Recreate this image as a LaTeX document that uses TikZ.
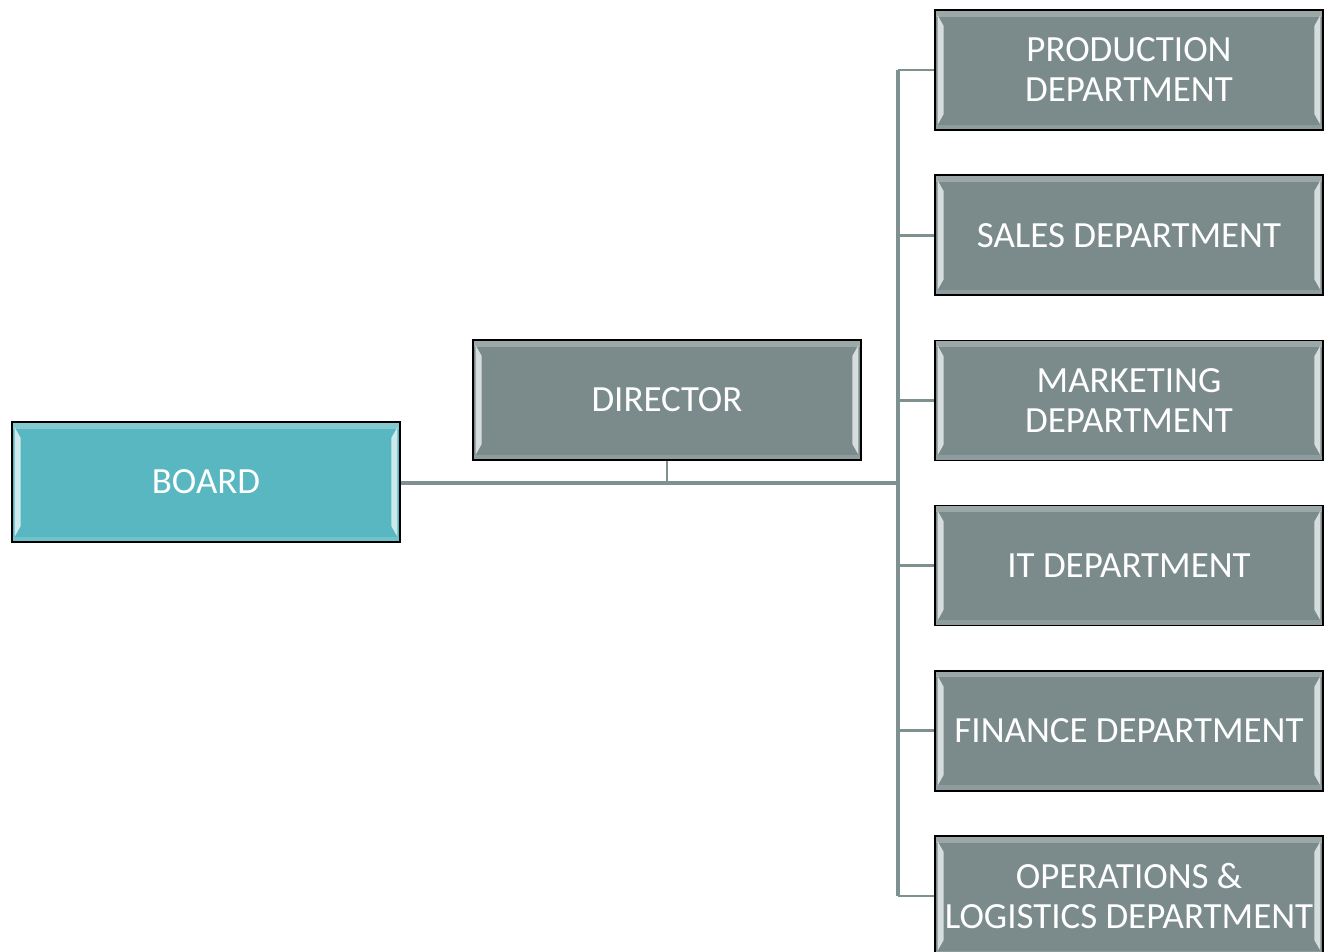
\documentclass[tikz,border=0pt]{standalone}
\usepackage{fontspec}
\setmainfont{Carlito}
\definecolor{slate}{HTML}{7B8B8C}
\definecolor{teal}{HTML}{59B7C1}
\definecolor{wire}{HTML}{7F9090}
\begin{document}
\begin{tikzpicture}[x=0.75pt,y=-0.75pt,
    box/.style={draw=black, line width=1.3pt, fill=slate, text=white,
      minimum width=291pt, minimum height=90pt, inner sep=0pt, align=center,
      font=\fontsize{27.7}{30}\selectfont,
      path picture={
        % bevel: light strips on the sides, soft bands top and bottom
        \fill[white, opacity=0.25] (path picture bounding box.north west) rectangle
          ([yshift=-5pt]path picture bounding box.north east);
        \fill[white, opacity=0.15] (path picture bounding box.south west) rectangle
          ([yshift=4pt]path picture bounding box.south east);
        \fill[white, opacity=0.7]
          ([xshift=2pt,yshift=4pt]path picture bounding box.south west) --
          ([xshift=6.5pt,yshift=12pt]path picture bounding box.south west) --
          ([xshift=6.5pt,yshift=-12pt]path picture bounding box.north west) --
          ([xshift=2pt,yshift=-4pt]path picture bounding box.north west) -- cycle;
        \fill[white, opacity=0.7]
          ([xshift=-2pt,yshift=4pt]path picture bounding box.south east) --
          ([xshift=-6.5pt,yshift=12pt]path picture bounding box.south east) --
          ([xshift=-6.5pt,yshift=-12pt]path picture bounding box.north east) --
          ([xshift=-2pt,yshift=-4pt]path picture bounding box.north east) -- cycle;
      }},
    link/.style={draw=wire, line width=2pt},
    trunk/.style={draw=wire, line width=3.4pt}]
  \useasboundingbox (0,0) rectangle (1331,952);

  % top of the tree
  \node[box, fill=teal] (board) at (206,482) {BOARD};
  \node[box] (director) at (667,400) {DIRECTOR};

  % departments down the right side
  \foreach \txt [count=\i] in {PRODUCTION\\DEPARTMENT, SALES DEPARTMENT,
      MARKETING\\DEPARTMENT, IT DEPARTMENT, FINANCE DEPARTMENT,
      OPERATIONS \&\\LOGISTICS DEPARTMENT}
    \node[box] (dep\i) at (1129,{70+165.2*(\i-1)}) {\txt};

  % where the trunk meets the bus
  \coordinate (bus) at (898,483);

  \draw[trunk] (board.east |- bus) -- (bus);
  \draw[link] (director.south) -- (director.south |- bus);
  \draw[link, line width=2.6pt] (dep1.west -| bus) -- (dep6.west -| bus);
  \foreach \i in {1,...,6}
    \draw[link] (dep\i.west -| bus) -- (dep\i.west);
\end{tikzpicture}
\end{document}
